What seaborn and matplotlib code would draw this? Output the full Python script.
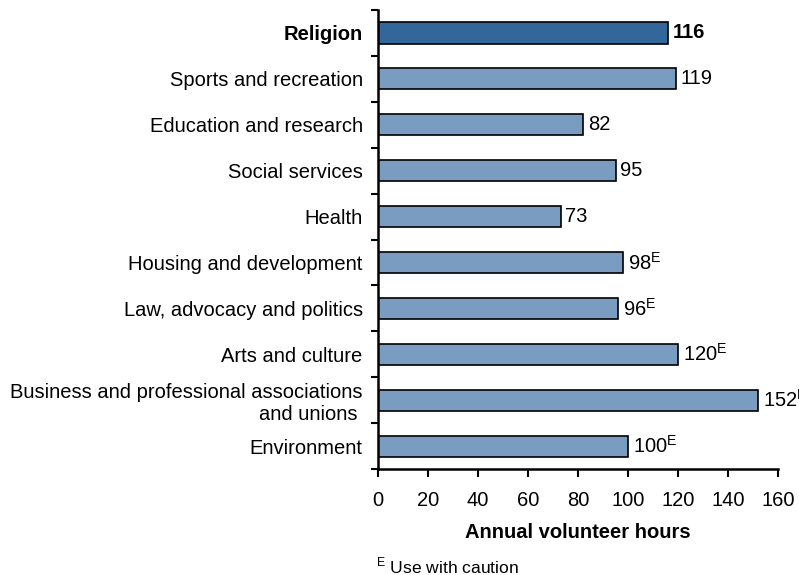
import numpy as np
import matplotlib
matplotlib.use("Agg")
import matplotlib.pyplot as plt
import seaborn as sns

categories = [
    "Religion",
    "Sports and recreation",
    "Education and research",
    "Social services",
    "Health",
    "Housing and development",
    "Law, advocacy and politics",
    "Arts and culture",
    "Business and professional associations\nand unions ",
    "Environment",
]
hours = [116, 119, 82, 95, 73, 98, 96, 120, 152, 100]
caution = [False, False, False, False, False, True, True, True, True, True]
x_ticks = [0, 20, 40, 60, 80, 100, 120, 140, 160]

sns.set_style("white")
plt.rcParams["font.family"] = ["Liberation Sans", "DejaVu Sans"]
plt.rcParams["mathtext.fontset"] = "custom"
plt.rcParams["mathtext.rm"] = "Liberation Sans"
plt.rcParams["mathtext.bf"] = "Liberation Sans:bold"
plt.rcParams["text.color"] = "black"
plt.rcParams["xtick.color"] = "black"
plt.rcParams["ytick.color"] = "black"
plt.rcParams["axes.labelcolor"] = "black"

fs = 14.5
dark = "#336699"
light = "#7A9CC0"
colors = [dark] + [light] * (len(categories) - 1)

fig = plt.figure(figsize=(7.99, 5.75), dpi=100)
ax = fig.add_axes([0.473, 0.1843, 0.501, 0.7983])

sns.barplot(x=hours, y=categories, hue=categories, palette=colors, legend=False,
            orient="h", width=0.46, saturation=1, edgecolor="black", linewidth=1.2, ax=ax)

ax.set_xlim(0, 160)
ax.set_ylim(len(categories) - 0.5, -0.5)
ax.set_xticks(x_ticks)
ax.set_xticklabels([str(t) for t in x_ticks], fontsize=fs)

# tick marks between categories, labels at centres
ax.set_yticks(np.arange(-0.5, len(categories), 1))
ax.set_yticklabels([])
ax.set_yticks(range(len(categories)), minor=True)
ax.set_yticklabels(categories, minor=True, fontsize=fs)
ax.tick_params(axis="y", which="minor", length=0, pad=11)
ax.tick_params(axis="y", which="major", length=5, width=1.5, direction="out", left=True)
ax.tick_params(axis="x", length=6, width=1.5, direction="out", bottom=True, pad=10)
ax.get_yticklabels(minor=True)[0].set_fontweight("bold")

for side in ["top", "right"]:
    ax.spines[side].set_visible(False)
for side in ["left", "bottom"]:
    ax.spines[side].set_linewidth(1.8)
    ax.spines[side].set_color("black")

ax.set_xlabel("Annual volunteer hours", fontsize=fs, fontweight="bold", labelpad=9)
ax.set_ylabel("")

for i, (v, c) in enumerate(zip(hours, caution)):
    label = f"{v}" + (r"$^{\mathrm{E}}$" if c else "")
    ax.annotate(label, (v, i), xytext=(3.5, 0), textcoords="offset points",
                va="center", ha="left", fontsize=fs,
                fontweight="bold" if i == 0 else "normal", annotation_clip=False)

fig.text(0.471, 0.016, r"$^{\mathrm{E}}$ Use with caution", fontsize=12.6, va="center", ha="left")

fig.savefig("out.png", dpi=100)
